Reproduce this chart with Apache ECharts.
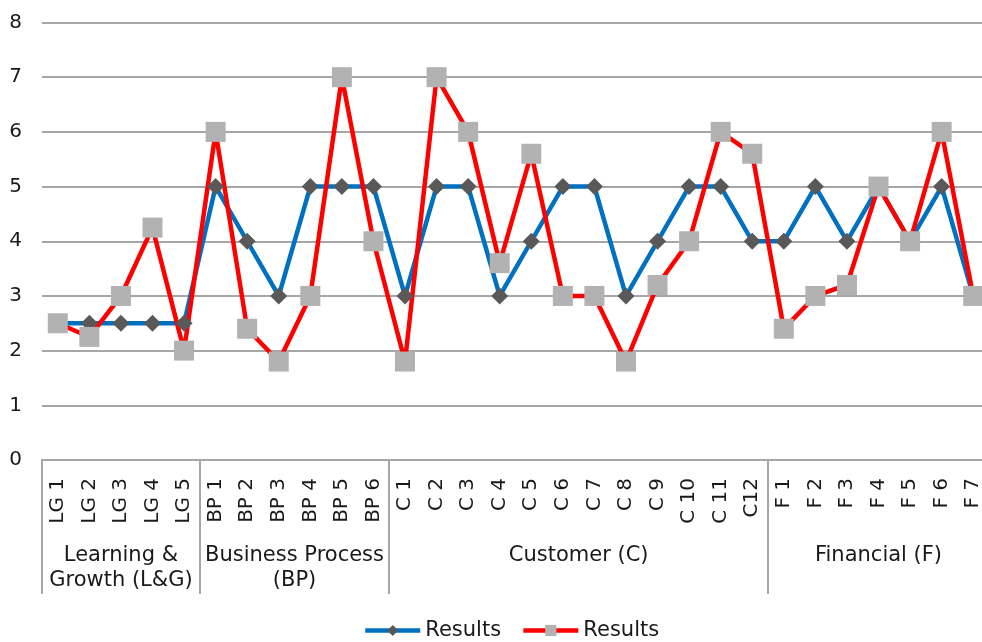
<!DOCTYPE html>
<html>
<head>
<meta charset="utf-8">
<script src="https://cdn.jsdelivr.net/npm/echarts@6/dist/echarts.min.js"></script>
<style>
    html, body { margin: 0; padding: 0; background: #fff; }
    #chart { width: 982px; height: 642px; }
</style>
</head>
<body>
<div id="chart"></div>
<script>
    // categories
    var categories = ['LG 1', 'LG 2', 'LG 3', 'LG 4', 'LG 5',
        'BP 1', 'BP 2', 'BP 3', 'BP 4', 'BP 5', 'BP 6',
        'C 1', 'C 2', 'C 3', 'C 4', 'C 5', 'C 6', 'C 7', 'C 8', 'C 9', 'C 10', 'C 11', 'C12',
        'F 1', 'F 2', 'F 3', 'F 4', 'F 5', 'F 6', 'F 7'];
    var groupNames = ['Learning &\nGrowth (L&G)', 'Business Process\n(BP)', 'Customer (C)', 'Financial (F)'];
    var groupSizes = [5, 6, 12, 7];

    // blue series (diamonds)
    var resultsBlue = [2.5, 2.5, 2.5, 2.5, 2.5,
        5, 4, 3, 5, 5, 5,
        3, 5, 5, 3, 4, 5, 5, 3, 4, 5, 5, 4,
        4, 5, 4, 5, 4, 5, 3];
    // red series (squares)
    var resultsRed = [2.5, 2.25, 3, 4.25, 2,
        6, 2.4, 1.8, 3, 7, 4,
        1.8, 7, 6, 3.6, 5.6, 3, 3, 1.8, 3.2, 4, 6, 5.6,
        2.4, 3, 3.2, 5, 4, 6, 3];

    var yTicks = [0, 1, 2, 3, 4, 5, 6, 7, 8];

    // group axis: half-category slots so group centres and boundaries land on points
    var groupSlots = [];
    var boundarySlots = [];
    var pos = 0;
    for (var s = 0; s <= categories.length * 2; s++) groupSlots.push('');
    groupSizes.forEach(function (size, i) {
        boundarySlots.push(pos * 2);
        groupSlots[pos * 2 + size] = groupNames[i];
        pos += size;
    });

    var textColor = '#1a1a1a';
    var gridColor = '#a6a6a6';
    var font = 'DejaVu Sans, Verdana, sans-serif';

    var chart = echarts.init(document.getElementById('chart'));
    var option = {
        animation: false,
        color: ['#0070c0', '#ff0000'],
        grid: {
            left: 42,
            right: -7,   // runs a little past the right edge, as in the reference
            top: 22.5,
            bottom: 182,
            outerBoundsMode: 'none'
        },
        legend: {
            left: 358,
            top: 615,
            itemWidth: 55,
            itemHeight: 14,
            itemGap: 20,
            lineStyle: { width: 4.5 },
            formatter: function () { return 'Results'; },
            textStyle: { color: textColor, fontSize: 21, fontFamily: font }
        },
        xAxis: [
            {
                type: 'category',
                data: categories,
                axisLine: { show: true, lineStyle: { color: gridColor, width: 2 } },
                axisTick: { show: false },
                axisLabel: {
                    interval: 0,
                    rotate: 90,
                    margin: 18,
                    color: textColor,
                    fontSize: 20,
                    fontFamily: font
                },
                splitLine: { show: false }
            },
            {
                type: 'category',
                position: 'bottom',
                boundaryGap: false,
                data: groupSlots,
                axisLine: { show: false },
                axisTick: {
                    show: true,
                    length: 134,
                    interval: function (index) {
                        return boundarySlots.indexOf(index) !== -1;
                    },
                    lineStyle: { color: gridColor, width: 2 }
                },
                axisLabel: {
                    interval: 0,
                    margin: 83,
                    color: textColor,
                    fontSize: 21,
                    lineHeight: 25,
                    fontFamily: font
                },
                splitLine: { show: false }
            }
        ],
        yAxis: {
            type: 'value',
            min: yTicks[0],
            max: yTicks[yTicks.length - 1],
            interval: 1,
            axisLine: { show: false },
            axisTick: { show: false },
            axisLabel: {
                margin: 20,
                color: textColor,
                fontSize: 20,
                fontFamily: font
            },
            splitLine: { lineStyle: { color: gridColor, width: 2 } }
        },
        series: [
            {
                name: 'Results A',
                type: 'line',
                data: resultsBlue,
                symbol: 'diamond',
                symbolSize: 17,
                lineStyle: { width: 4.5, color: '#0070c0' },
                itemStyle: { color: '#595959' }
            },
            {
                name: 'Results B',
                type: 'line',
                data: resultsRed,
                symbol: 'rect',
                symbolSize: 20,
                lineStyle: { width: 4.5, color: '#ff0000' },
                itemStyle: { color: '#b2b2b2' }
            }
        ]
    };
    chart.setOption(option);
    window.addEventListener('resize', function () {
        chart.resize();
    });
</script>
</body>
</html>
